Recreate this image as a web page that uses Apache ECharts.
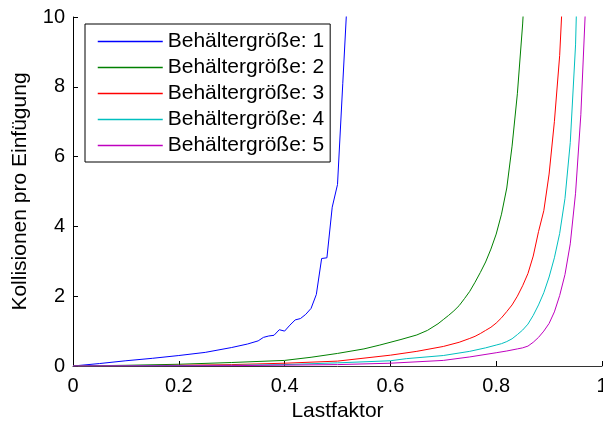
<!DOCTYPE html>
<html>
<head>
<meta charset="utf-8">
<script src="https://cdn.jsdelivr.net/npm/echarts@6/dist/echarts.min.js"></script>
<style>
  html, body { margin: 0; padding: 0; background: #fff; }
  #chart { width: 603px; height: 423px; }
</style>
</head>
<body>
<div id="chart"></div>
<script>
// Kollisionen pro Einfügung über dem Lastfaktor, je Behältergröße
const seriesNames = ['Behältergröße: 1', 'Behältergröße: 2', 'Behältergröße: 3', 'Behältergröße: 4', 'Behältergröße: 5'];
const seriesColors = ['#0000ff', '#008000', '#ff0000', '#00bfbf', '#bf00bf'];

const load1 = [0, 0.05, 0.10, 0.15, 0.20, 0.25, 0.30, 0.33, 0.35, 0.36, 0.37, 0.38, 0.39, 0.40, 0.41, 0.42, 0.43, 0.44, 0.45, 0.46, 0.47, 0.48, 0.49, 0.50, 0.51, 0.52];
const coll1 = [0, 0.07, 0.15, 0.22, 0.30, 0.39, 0.53, 0.63, 0.72, 0.82, 0.86, 0.88, 1.04, 1.00, 1.17, 1.32, 1.36, 1.48, 1.65, 2.05, 3.08, 3.10, 4.55, 5.20, 8.10, 11.0];

const load2 = [0, 0.10, 0.20, 0.30, 0.40, 0.45, 0.50, 0.55, 0.58, 0.62, 0.65, 0.67, 0.69, 0.70, 0.71, 0.72, 0.73, 0.74, 0.75, 0.76, 0.77, 0.78, 0.79, 0.80, 0.81, 0.82, 0.83, 0.84, 0.85, 0.86];
const coll2 = [0, 0.02, 0.05, 0.10, 0.16, 0.25, 0.36, 0.49, 0.60, 0.76, 0.89, 1.02, 1.21, 1.33, 1.45, 1.58, 1.73, 1.93, 2.14, 2.40, 2.68, 2.98, 3.35, 3.78, 4.35, 5.10, 6.30, 7.80, 9.80, 12.5];

const load3 = [0, 0.20, 0.30, 0.40, 0.50, 0.60, 0.65, 0.70, 0.73, 0.75, 0.76, 0.77, 0.78, 0.79, 0.80, 0.81, 0.82, 0.83, 0.84, 0.85, 0.86, 0.87, 0.88, 0.89, 0.90, 0.91, 0.92, 0.93];
const coll3 = [0, 0.02, 0.04, 0.08, 0.14, 0.31, 0.42, 0.56, 0.68, 0.79, 0.85, 0.93, 1.02, 1.11, 1.23, 1.38, 1.56, 1.75, 2.00, 2.30, 2.65, 3.15, 3.85, 4.45, 5.50, 7.00, 8.90, 12.0];

const load4 = [0, 0.30, 0.40, 0.50, 0.60, 0.63, 0.70, 0.75, 0.78, 0.80, 0.81, 0.82, 0.83, 0.84, 0.85, 0.86, 0.87, 0.88, 0.89, 0.90, 0.91, 0.92, 0.93, 0.94, 0.95, 0.96];
const coll4 = [0, 0.02, 0.04, 0.09, 0.15, 0.21, 0.30, 0.42, 0.52, 0.60, 0.64, 0.70, 0.78, 0.90, 1.03, 1.20, 1.45, 1.75, 2.10, 2.55, 3.10, 3.80, 4.80, 6.40, 9.20, 15.0];

const load5 = [0, 0.30, 0.50, 0.60, 0.70, 0.75, 0.80, 0.82, 0.84, 0.85, 0.86, 0.87, 0.88, 0.89, 0.90, 0.91, 0.92, 0.93, 0.94, 0.95, 0.96, 0.97];
const coll5 = [0, 0.01, 0.04, 0.08, 0.16, 0.26, 0.38, 0.43, 0.49, 0.52, 0.57, 0.68, 0.82, 1.00, 1.22, 1.55, 2.02, 2.62, 3.50, 4.95, 7.20, 10.7];

const xTicks = [0, 0.2, 0.4, 0.6, 0.8, 1];
const yTicks = [0, 2, 4, 6, 8, 10];

const loads = [load1, load2, load3, load4, load5];
const colls = [coll1, coll2, coll3, coll4, coll5];

const FONT = 'Liberation Sans, Arial, Helvetica, sans-serif';

const series = seriesNames.map((name, i) => ({
  name: name,
  type: 'line',
  data: loads[i].map((x, k) => [x, colls[i][k]]),
  showSymbol: false,
  symbol: 'none',
  clip: true,
  itemStyle: { color: seriesColors[i] },
  lineStyle: { color: seriesColors[i], width: 1 },
  emphasis: { disabled: true },
  z: 2
}));

// legend entries carry their own line colour
const legendData = seriesNames.map((name, i) => ({
  name: name,
  itemStyle: { color: seriesColors[i], opacity: 0 },
  lineStyle: { color: seriesColors[i], width: 1.5, opacity: 1 }
}));

const chart = echarts.init(document.getElementById('chart'), null, { renderer: 'canvas' });
chart.setOption({
  animation: false,
  backgroundColor: '#fff',
  grid: { left: 73, right: 1, top: 17, bottom: 57, containLabel: false, outerBoundsMode: 'none' },
  xAxis: {
    type: 'value',
    min: xTicks[0],
    max: xTicks[xTicks.length - 1],
    interval: 0.2,
    name: 'Lastfaktor',
    nameLocation: 'middle',
    nameGap: 34,
    nameTextStyle: { color: '#000', fontSize: 21, fontFamily: FONT },
    axisLine: { show: true, onZero: false, lineStyle: { color: '#333', width: 1 } },
    axisTick: { show: true, inside: true, length: 5, lineStyle: { color: '#000' } },
    axisLabel: {
      color: '#000', fontSize: 20, fontFamily: FONT, margin: 10,
      formatter: v => String(+v.toFixed(1))
    },
    splitLine: { show: false }
  },
  yAxis: {
    type: 'value',
    min: yTicks[0],
    max: yTicks[yTicks.length - 1],
    interval: 2,
    name: 'Kollisionen pro Einfügung',
    nameLocation: 'middle',
    nameGap: 42,
    nameTextStyle: { color: '#000', fontSize: 21, fontFamily: FONT },
    axisLine: { show: true, lineStyle: { color: '#000', width: 1 } },
    axisTick: { show: true, inside: true, length: 5, lineStyle: { color: '#000' } },
    axisLabel: { color: '#000', fontSize: 20, fontFamily: FONT, margin: 8 },
    splitLine: { show: false }
  },
  legend: {
    orient: 'vertical',
    left: 85,
    top: 24,
    padding: [7, 6, 6, 12],
    itemWidth: 65,
    itemHeight: 21,
    itemGap: 5,
    backgroundColor: '#fff',
    borderColor: '#000',
    borderWidth: 1,
    selectedMode: false,
    textStyle: { color: '#000', fontSize: 21, fontFamily: FONT, lineHeight: 20 },
    data: legendData
  },
  series: series
});
</script>
</body>
</html>
